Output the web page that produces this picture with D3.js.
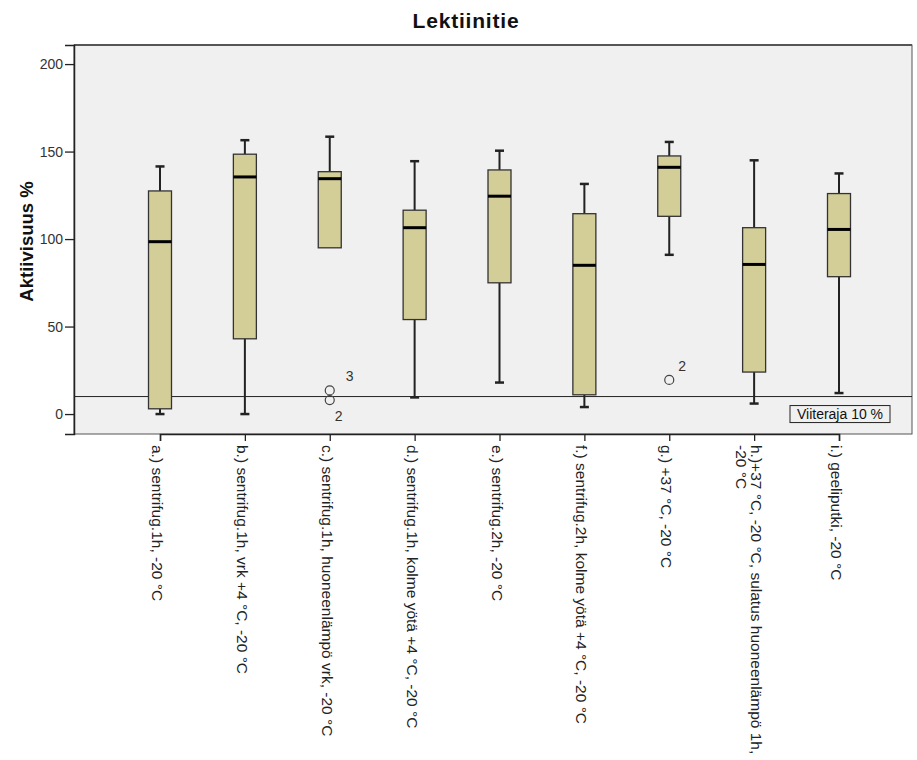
<!DOCTYPE html>
<html>
<head>
<meta charset="utf-8">
<script src="https://cdn.jsdelivr.net/npm/d3@7"></script>
<style>
  body { margin: 0; background: #fff; }
  text { font-family: Arial, "Liberation Sans", sans-serif; }
</style>
</head>
<body>
<div id="chart"></div>
<script>
// Box plot summary values
const categories = [
  "a.) sentrifug.1h, -20 °C",
  "b.) sentrifug.1h, vrk +4 °C, -20 °C",
  "c.) sentrifug.1h, huoneenlämpö vrk, -20 °C",
  "d.) sentrifug.1h, kolme yötä +4 °C, -20 °C",
  "e.) sentrifug.2h, -20 °C",
  "f.) sentrifug.2h, kolme yötä +4 °C, -20 °C",
  "g.) +37 °C, -20 °C",
  "h.)+37 °C, -20 °C, sulatus huoneenlämpö 1h,\n-20 °C",
  "i.) geeliputki, -20 °C"
];
const mins    = [0, 0, 95, 9.5, 18, 4, 91, 6, 12];
const q1s     = [3, 43, 95, 54, 75, 11, 113, 24, 78.5];
const medians = [98.5, 135.5, 134.5, 106.5, 124.5, 85, 141, 85.5, 105.5];
const q3s     = [127.5, 148.5, 138.5, 116.5, 139.5, 114.5, 147.5, 106.5, 126];
const maxs    = [141.5, 156.5, 158.5, 144.5, 150.5, 131.5, 155.5, 145, 137.5];

const outlierCats   = [2, 2, 6];
const outlierValues = [13.5, 8, 19.5];
const outlierLabels = ["3", "2", "2"];
const outlierSide   = ["up", "down", "up"];

const yTicks = [0, 50, 100, 150, 200];
const refValue = 10;
const refLabel = "Viiteraja 10 %";

const width = 917, height = 760;
const margin = {top: 45, bottom: 326, left: 74, right: 5};

const svg = d3.select("#chart")
  .append("svg")
  .attr("width", width)
  .attr("height", height);

const x = d3.scalePoint()
  .domain(categories)
  .range([160, 839]);

const y = d3.scaleLinear()
  .domain([-11.4, 210.9])
  .range([height - margin.bottom, margin.top]);

const boxes = categories.map((c, i) => ({
  cat: c, min: mins[i], q1: q1s[i], med: medians[i], q3: q3s[i], max: maxs[i]
}));

// plot background
svg.append("rect")
  .attr("x", margin.left)
  .attr("y", margin.top)
  .attr("width", width - margin.left - margin.right)
  .attr("height", height - margin.top - margin.bottom)
  .attr("fill", "#f0f0f0")
  .attr("stroke", "#555")
  .attr("stroke-width", 1);

// top border a bit heavier
svg.append("line")
  .attr("x1", margin.left).attr("x2", width - margin.right)
  .attr("y1", margin.top).attr("y2", margin.top)
  .attr("stroke", "#555").attr("stroke-width", 2);

// reference line
svg.append("line")
  .attr("x1", margin.left).attr("x2", width - margin.right)
  .attr("y1", y(refValue)).attr("y2", y(refValue))
  .attr("stroke", "#222").attr("stroke-width", 1);

const boxW = 23, capW = 9;

const g = svg.append("g");

boxes.forEach(d => {
  const cx = x(d.cat);
  // whiskers
  g.append("line")
    .attr("x1", cx).attr("x2", cx)
    .attr("y1", y(d.q3)).attr("y2", y(d.max))
    .attr("stroke", "#222").attr("stroke-width", 2);
  g.append("line")
    .attr("x1", cx - capW / 2).attr("x2", cx + capW / 2)
    .attr("y1", y(d.max)).attr("y2", y(d.max))
    .attr("stroke", "#222").attr("stroke-width", 2.5);
  if (d.min < d.q1) {
    g.append("line")
      .attr("x1", cx).attr("x2", cx)
      .attr("y1", y(d.q1)).attr("y2", y(d.min))
      .attr("stroke", "#222").attr("stroke-width", 2);
    g.append("line")
      .attr("x1", cx - capW / 2).attr("x2", cx + capW / 2)
      .attr("y1", y(d.min)).attr("y2", y(d.min))
      .attr("stroke", "#222").attr("stroke-width", 2.5);
  }
  // box
  g.append("rect")
    .attr("x", cx - boxW / 2)
    .attr("y", y(d.q3))
    .attr("width", boxW)
    .attr("height", y(d.q1) - y(d.q3))
    .attr("fill", "#d3ce97")
    .attr("stroke", "#333")
    .attr("stroke-width", 1.3);
  // median
  g.append("line")
    .attr("x1", cx - boxW / 2).attr("x2", cx + boxW / 2)
    .attr("y1", y(d.med)).attr("y2", y(d.med))
    .attr("stroke", "#000").attr("stroke-width", 3);
});

// outliers
outlierCats.forEach((ci, i) => {
  const cx = x(categories[ci]);
  const cy = y(outlierValues[i]);
  g.append("circle")
    .attr("cx", cx).attr("cy", cy).attr("r", 4.5)
    .attr("fill", "none")
    .attr("stroke", "#444").attr("stroke-width", 1.2);
  const up = outlierSide[i] === "up";
  g.append("text")
    .attr("x", cx + (up ? (ci === 6 ? 13 : 20) : 9))
    .attr("y", cy + (up ? -9 : 21))
    .attr("text-anchor", "middle")
    .style("font-size", "14px")
    .attr("fill", "#333")
    .text(outlierLabels[i]);
});

// reference label
const refG = svg.append("g")
  .attr("transform", `translate(840, ${y(refValue) + 17})`);
refG.append("rect")
  .attr("x", -50).attr("y", -8).attr("width", 100).attr("height", 17)
  .attr("fill", "#f0f0f0").attr("stroke", "#222").attr("stroke-width", 1);
refG.append("text")
  .attr("x", 0).attr("y", 5.5)
  .attr("text-anchor", "middle")
  .style("font-size", "14px")
  .attr("fill", "#111")
  .text(refLabel);

// y axis
const yAxis = svg.append("g")
  .attr("transform", `translate(${margin.left},0)`)
  .call(d3.axisLeft(y).tickValues(yTicks).tickSize(9).tickPadding(2));
yAxis.select(".domain").attr("stroke", "#222").attr("stroke-width", 1.5);
yAxis.selectAll(".tick line").attr("stroke", "#222").attr("stroke-width", 1.3);
yAxis.selectAll("text")
  .style("font-size", "14px")
  .attr("fill", "#333");

// x axis
const xAxis = svg.append("g")
  .attr("transform", `translate(0,${height - margin.bottom})`)
  .call(d3.axisBottom(x).tickSize(7).tickFormat(""));
xAxis.select(".domain").attr("stroke", "#222").attr("stroke-width", 1.5);
xAxis.selectAll(".tick line").attr("stroke", "#222").attr("stroke-width", 1.3);

// rotated category labels
categories.forEach(c => {
  const lines = c.split("\n");
  const t = svg.append("text")
    .attr("transform", `translate(${x(c) - 2},${height - margin.bottom + 11}) rotate(90)`)
    .style("font-size", "15.5px")
    .attr("fill", "#222")
    .attr("dominant-baseline", "central");
  lines.forEach((ln, i) => {
    t.append("tspan")
      .attr("x", 0)
      .attr("y", lines.length > 1 ? (i === 0 ? -5 : 10) : 0)
      .text(ln);
  });
});

// titles
svg.append("text")
  .attr("x", 466)
  .attr("y", 28)
  .attr("text-anchor", "middle")
  .style("font-size", "21px")
  .style("font-weight", "bold")
  .style("letter-spacing", "0.8px")
  .attr("fill", "#111")
  .text("Lektiinitie");

svg.append("text")
  .attr("transform", `translate(33, ${(margin.top + height - margin.bottom) / 2 + 2}) rotate(-90)`)
  .attr("text-anchor", "middle")
  .style("font-size", "18.5px")
  .style("font-weight", "bold")
  .attr("fill", "#111")
  .text("Aktiivisuus %");
</script>
</body>
</html>
